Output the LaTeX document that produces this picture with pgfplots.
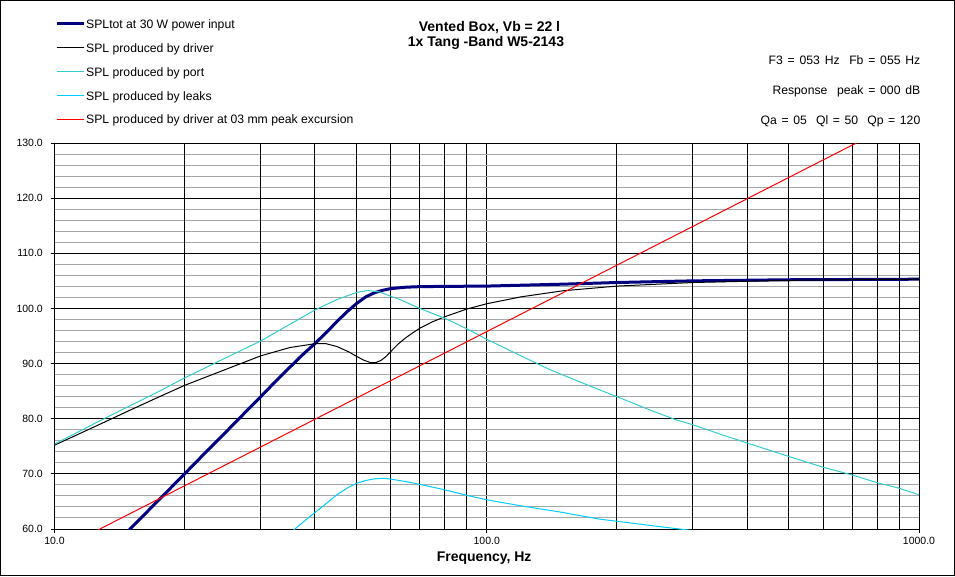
\documentclass[border=0pt]{standalone}
\usepackage{fontspec}
\setmainfont{Liberation Sans}
\usepackage{pgfplots}
\pgfplotsset{compat=1.18}
\usepackage{pgfplotstable}

\definecolor{navyline}{RGB}{0,0,128}
\definecolor{portc}{RGB}{51,204,204}
\definecolor{leakc}{RGB}{0,204,255}
\definecolor{gridgray}{RGB}{166,166,170}

\pgfplotstableread{
f spl
14 57.6
15 60.1
17.5 65.4
20 70.0
22.5 74.1
25 77.7
27.5 81.0
30 84.0
32.5 86.8
35 89.3
37.5 91.6
40 93.6
42.5 95.6
45 97.6
47.5 99.4
50 100.9
52.5 102.1
55 102.85
57.5 103.3
60 103.6
65 103.85
70 103.95
80 104.0
100 104.05
150 104.4
200 104.7
300 105.0
500 105.2
1000 105.3
}\tot

\pgfplotstableread{
f spl
10 75.2
12.5 78.7
15 81.6
17.5 84.0
20 86.05
25 89.0
30 91.4
35 92.9
40 93.6
42.5 93.6
45 93.1
48 92.1
50 91.3
52 90.6
54 90.15
55.5 90.2
57 90.6
58.5 91.3
60 92.2
62.5 93.6
65 94.7
67.5 95.6
70 96.4
75 97.6
80 98.5
90 99.9
100 100.85
120 102.1
150 103.2
200 104.05
300 104.7
500 105.1
700 105.2
1000 105.3
}\driver

\pgfplotstableread{
f spl
10 75.4
12.5 79.3
15 82.4
17.5 85.0
20 87.4
25 91.1
30 94.1
35 97.1
40 99.7
45 101.6
50 102.9
53 103.25
56.5 103.0
60 102.2
63 101.6
70 100.0
80 98.2
90 96.3
100 94.4
120 91.4
140 88.9
170 86.2
200 84.0
240 81.5
274 79.8
300 78.9
350 77.1
400 75.6
500 73.15
600 71.2
700 69.8
800 68.4
900 67.4
1000 66.2
}\port

\pgfplotstableread{
f spl
34 58.3
36 60.0
38 61.55
40 62.95
42.5 64.6
45 66.2
47.5 67.4
50 68.3
52.5 68.8
55 69.1
57.5 69.2
60 69.05
65 68.6
70 68.1
80 67.1
90 66.1
100 65.3
120 64.2
150 63.0
182 61.8
200 61.4
250 60.45
279 60.0
300 59.7
}\leaks

\pgfplotstableread{
f spl
10 55.8
1000 135.8
}\excursion

\begin{document}
\begin{tikzpicture}[x=1pt,y=1pt]
\useasboundingbox (0,0) rectangle (955,576);
\draw[line width=1pt] (0.5,0.5) rectangle (954.5,575.5);
\begin{axis}[
  at={(54.5pt,47pt)}, anchor=south west,
  width=864.5pt, height=386pt, scale only axis,
  xmode=log, log basis x=10,
  xmin=10, xmax=1000, ymin=60, ymax=130,
  xtick={10,100,1000}, xticklabels={10.0,100.0,1000.0},
  extra x ticks={20,30,40,50,60,70,80,90,200,300,400,500,600,700,800,900},
  extra x tick labels={},
  extra x tick style={major tick length=0pt, grid=major},
  ytick={60,70,80,90,100,110,120,130},
  yticklabels={60.0,70.0,80.0,90.0,100.0,110.0,120.0,130.0},
  minor ytick={62,64,66,68,72,74,76,78,82,84,86,88,92,94,96,98,102,104,106,108,112,114,116,118,122,124,126,128},
  xmajorgrids=true, ymajorgrids=true, yminorgrids=true, xminorgrids=false,
  major grid style={black, line width=1pt},
  minor grid style={gridgray, line width=1pt},
  minor tick length=0pt,
  major tick length=4pt,
  tick align=outside, tick pos=left,
  tick style={black, line width=1pt},
  axis line style={line width=1pt},
  tick label style={font=\fontsize{10.5}{12}\selectfont, inner sep=0pt},
  yticklabel style={anchor=east, xshift=-7.5pt},
  xticklabel style={anchor=north, yshift=-4pt},
  xlabel={Frequency, Hz},
  xlabel style={at={(axis description cs:0.497,0)}, anchor=base, yshift=-32.7pt, font=\bfseries\fontsize{14}{16}\selectfont},
]
\addplot[navyline, line width=3pt] table[x=f, y=spl] {\tot};
\addplot[black, line width=1pt] table[x=f, y=spl] {\driver};
\addplot[portc, line width=1pt] table[x=f, y=spl] {\port};
\addplot[leakc, line width=1pt] table[x=f, y=spl] {\leaks};
\addplot[red, line width=1pt] table[x=f, y=spl] {\excursion};
\end{axis}
% legend
\begin{scope}[every node/.style={anchor=base west, inner sep=0pt, font=\fontsize{12.2}{14}\selectfont}]
\draw[navyline, line width=3pt] (56.5,552.5) -- (83.5,552.5);
\node at (86,547.5) {SPLtot at 30 W power input};
\draw[black, line width=1pt] (56.5,528.5) -- (83.5,528.5);
\node at (86,523.5) {SPL produced by driver};
\draw[portc, line width=1pt] (56.5,504.5) -- (83.5,504.5);
\node at (86,499.8) {SPL produced by port};
\draw[leakc, line width=1pt] (56.5,480.5) -- (83.5,480.5);
\node at (86,475.8) {SPL produced by leaks};
\draw[red, line width=1pt] (56.5,456.5) -- (83.5,456.5);
\node at (86,452.2) {SPL produced by driver at 03 mm peak excursion};
\end{scope}
\node[anchor=base, font=\bfseries\fontsize{14}{16}\selectfont] at (489.5,544.5) {Vented Box, Vb = 22 l};
\node[anchor=base, font=\bfseries\fontsize{14}{16}\selectfont] at (486,529) {1x Tang -Band W5-2143};
\begin{scope}[every node/.style={anchor=base east, inner sep=0pt, font=\fontsize{12.2}{14}\selectfont}]
\node at (920.5,511.5) {\spaceskip=4.8pt F3 = 053 Hz~~Fb = 055 Hz};
\node at (920.5,481.5) {\spaceskip=4.8pt Response~~peak = 000 dB};
\node at (920.5,451.5) {\spaceskip=4.6pt Qa = 05~~Ql = 50~~Qp = 120};
\end{scope}
\end{tikzpicture}
\end{document}
